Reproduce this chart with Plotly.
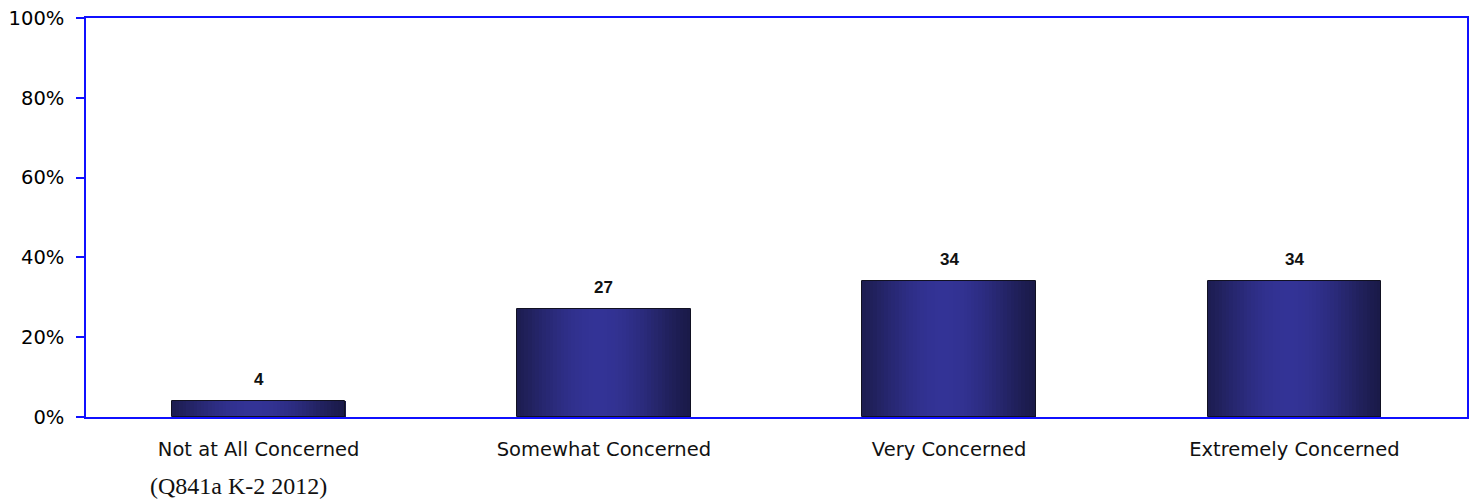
import plotly.graph_objects as go
import math

categories = ["Not at All Concerned", "Somewhat Concerned", "Very Concerned", "Extremely Concerned"]
values = [4, 27, 34, 34]
y_ticks = [0, 20, 40, 60, 80, 100]
y_tick_labels = ["0%", "20%", "40%", "60%", "80%", "100%"]
source_note = "(Q841a K-2 2012)"

BAR_W = 0.502
N = 48
edge = (26, 26, 72)
center = (51, 51, 150)

def col(t):
    d = abs(t - 0.47) / 0.53
    f = math.cos(min(d, 1) * math.pi / 2) ** 1.3
    r = [round(edge[k] + (center[k] - edge[k]) * f) for k in range(3)]
    return f"rgb({r[0]},{r[1]},{r[2]})"

fig = go.Figure()
for i in range(N):
    t = (i + 0.5) / N
    fig.add_trace(go.Bar(
        x=categories, y=values,
        width=BAR_W / N * 1.08,
        offset=-BAR_W / 2 + i * BAR_W / N,
        marker=dict(color=col(t), line=dict(width=0)),
        showlegend=False, hoverinfo="skip",
    ))
fig.add_trace(go.Bar(
    x=categories, y=values, width=BAR_W, offset=-BAR_W / 2,
    marker=dict(color="rgba(0,0,0,0)", line=dict(color="#111122", width=1)),
    showlegend=False, hoverinfo="skip",
))

for c, v in zip(categories, values):
    fig.add_annotation(x=c, y=v, text=f"<b>{v}</b>", showarrow=False,
                       yshift=22, font=dict(family="Liberation Sans, Arial", size=17, color="#111"))

fig.add_annotation(xref="paper", yref="paper", x=(150 - 86) / 1381, y=0, yanchor="middle", xanchor="left",
                   yshift=-69, xshift=-2, text=source_note, showarrow=False,
                   font=dict(family="Liberation Serif, serif", size=24, color="#111"))

fig.update_layout(
    width=1473, height=499,
    margin=dict(l=86, r=6, t=18, b=82, autoexpand=False),
    paper_bgcolor="white", plot_bgcolor="white",
    barmode="overlay", bargap=0,
    xaxis=dict(showline=True, linecolor="#1010ff", linewidth=1.5, mirror=True,
               ticks="", showgrid=False, zeroline=False, automargin=False,
               tickfont=dict(family="DejaVu Sans, Verdana", size=19.5, color="#111"),
               ticklabelstandoff=14),
    yaxis=dict(range=[0, 100], tickvals=y_ticks, ticktext=y_tick_labels,
               showline=True, linecolor="#1010ff", linewidth=1.5, mirror=True,
               ticks="outside", ticklen=8, tickcolor="#1010ff", tickwidth=1.5,
               showgrid=False, zeroline=False, automargin=False,
               tickfont=dict(family="DejaVu Sans, Verdana", size=19.5, color="#000"),
               ticklabelstandoff=8),
)

fig.write_html("out.html", config={"displayModeBar": False},
               post_script="document.body.style.margin='0';document.body.style.overflow='hidden';")
